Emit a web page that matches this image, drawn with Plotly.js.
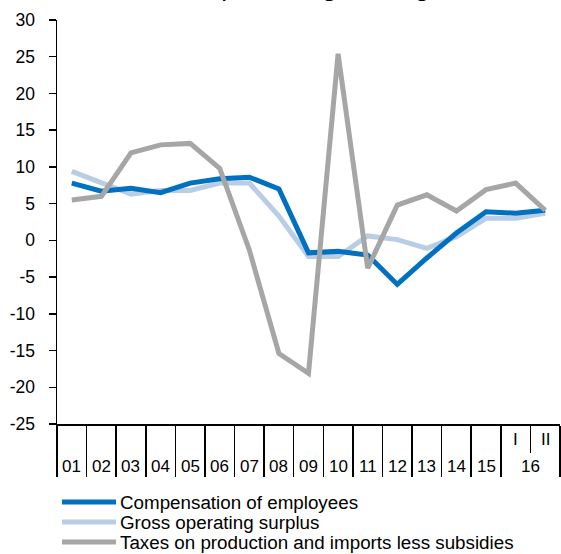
<!DOCTYPE html>
<html>
<head>
<meta charset="utf-8">
<script src="https://cdn.plot.ly/plotly-3.0.1.min.js"></script>
<style>html,body{margin:0;padding:0;background:#fff;}#chart{width:561px;height:554px;}</style>
</head>
<body>
<div id="chart"></div>
<script>
// Categories (years 2001-2015, then 2016 half-years I and II)
var yearLabels = ["01","02","03","04","05","06","07","08","09","10","11","12","13","14","15","16"];
var halfLabels = ["I","II"];
var pointIndex = [0,1,2,3,4,5,6,7,8,9,10,11,12,13,14,15,16];

// Y tick labels (hyphen minus as in the reference)
var yTickVals = [-25, -20, -15, -10, -5, 0, 5, 10, 15, 20, 25, 30];
var yTickText = ["-25", "-20", "-15", "-10", "-5", "0", "5", "10", "15", "20", "25", "30"];

// Series values (% change)
var compensation = [7.8, 6.7, 7.1, 6.5, 7.8, 8.4, 8.6, 7.0, -1.7, -1.5, -2.0, -6.0, -2.4, 1.0, 3.9, 3.7, 4.1];
var grossSurplus = [9.4, 7.9, 6.3, 6.8, 6.8, 7.8, 7.8, 3.3, -2.2, -2.2, 0.6, 0.1, -1.1, 0.5, 3.0, 3.0, 3.7];
var taxesLessSubsidies = [5.5, 6.0, 11.9, 13.0, 13.2, 9.8, -1.3, -15.4, -18.1, 25.4, -3.8, 4.8, 6.2, 4.0, 6.9, 7.8, 4.1];

var seriesNames = ["Compensation of employees", "Gross operating surplus", "Taxes on production and imports less subsidies"];
var seriesColors = ["#0070C0", "#B9CDE5", "#A6A6A6"];
var titleText = "Annual percentage change";

var FONT = "Liberation Sans, Arial, sans-serif";

var traces = [
  {x: pointIndex, y: grossSurplus, name: seriesNames[1], type: "scatter", mode: "lines",
   line: {color: seriesColors[1], width: 5}, showlegend: false},
  {x: pointIndex, y: compensation, name: seriesNames[0], type: "scatter", mode: "lines",
   line: {color: seriesColors[0], width: 5}, showlegend: false},
  {x: pointIndex, y: taxesLessSubsidies, name: seriesNames[2], type: "scatter", mode: "lines",
   line: {color: seriesColors[2], width: 5}, showlegend: false}
];

var plotH = 404;
var nYears = yearLabels.length - 1; // full years before 2016
var sepVals = [];
for (var i = 0; i <= nYears; i++) sepVals.push(i - 0.5);
sepVals.push(pointIndex.length - 0.5);

var annotations = [];
for (var j = 0; j < nYears; j++) {
  annotations.push({x: j, y: -42 / plotH, xref: "x", yref: "paper", text: yearLabels[j],
    showarrow: false, yanchor: "middle", xanchor: "center", font: {family: FONT, size: 17, color: "#000"}});
}
annotations.push({x: nYears + 0.5, y: -42 / plotH, xref: "x", yref: "paper", text: yearLabels[nYears],
  showarrow: false, yanchor: "middle", xanchor: "center", font: {family: FONT, size: 17, color: "#000"}});
for (var k = 0; k < halfLabels.length; k++) {
  annotations.push({x: nYears + k, y: -15 / plotH, xref: "x", yref: "paper", text: halfLabels[k],
    showarrow: false, yanchor: "middle", xanchor: "center", font: {family: FONT, size: 17, color: "#000"}});
}
// title (cut at top as in the reference)
annotations.push({x: 0.461, y: 1 + 16 / plotH, xref: "paper", yref: "paper", text: titleText,
  showarrow: false, yanchor: "bottom", xanchor: "center", font: {family: FONT, size: 26, color: "#000"}});

// custom legend
var shapes = [];
var legendRowsPx = [78, 98, 118];
var legendOrder = [0, 1, 2];
for (var m = 0; m < legendOrder.length; m++) {
  var s = legendOrder[m];
  var yy = -legendRowsPx[m] / plotH;
  shapes.push({type: "line", xref: "paper", yref: "paper", x0: 5 / 503, x1: 59 / 503, y0: yy, y1: yy,
    line: {color: seriesColors[s], width: 5}});
  annotations.push({x: 61 / 503, y: yy, xref: "paper", yref: "paper", text: seriesNames[s],
    showarrow: false, xanchor: "left", yanchor: "middle",
    font: {family: FONT, size: 18.8, color: "#000"}});
}

var layout = {
  width: 561, height: 554,
  margin: {l: 57, r: 1, t: 20, b: 130},
  paper_bgcolor: "#fff", plot_bgcolor: "#fff",
  showlegend: false,
  xaxis: {
    range: [-0.5, pointIndex.length - 0.5], showgrid: false, zeroline: false,
    showline: true, linecolor: "#000", linewidth: 1.5,
    tickmode: "array", tickvals: sepVals, ticks: "outside", ticklen: 51, tickwidth: 1.5, tickcolor: "#000",
    showticklabels: false,
    minor: {tickmode: "array", tickvals: [nYears + 0.5], ticks: "outside", ticklen: 27, tickwidth: 1.5, tickcolor: "#000", showgrid: false}
  },
  yaxis: {
    range: [-25, 30], tickmode: "array", tickvals: yTickVals, ticktext: yTickText,
    showgrid: false, zeroline: false,
    showline: true, linecolor: "#000", linewidth: 1.5,
    ticks: "outside", ticklen: 7, tickwidth: 1.5, tickcolor: "#000",
    ticklabelstandoff: 10,
    tickfont: {family: FONT, size: 17.5, color: "#000"}
  },
  annotations: annotations,
  shapes: shapes
};

Plotly.newPlot("chart", traces, layout, {displayModeBar: false, staticPlot: true});
</script>
</body>
</html>
